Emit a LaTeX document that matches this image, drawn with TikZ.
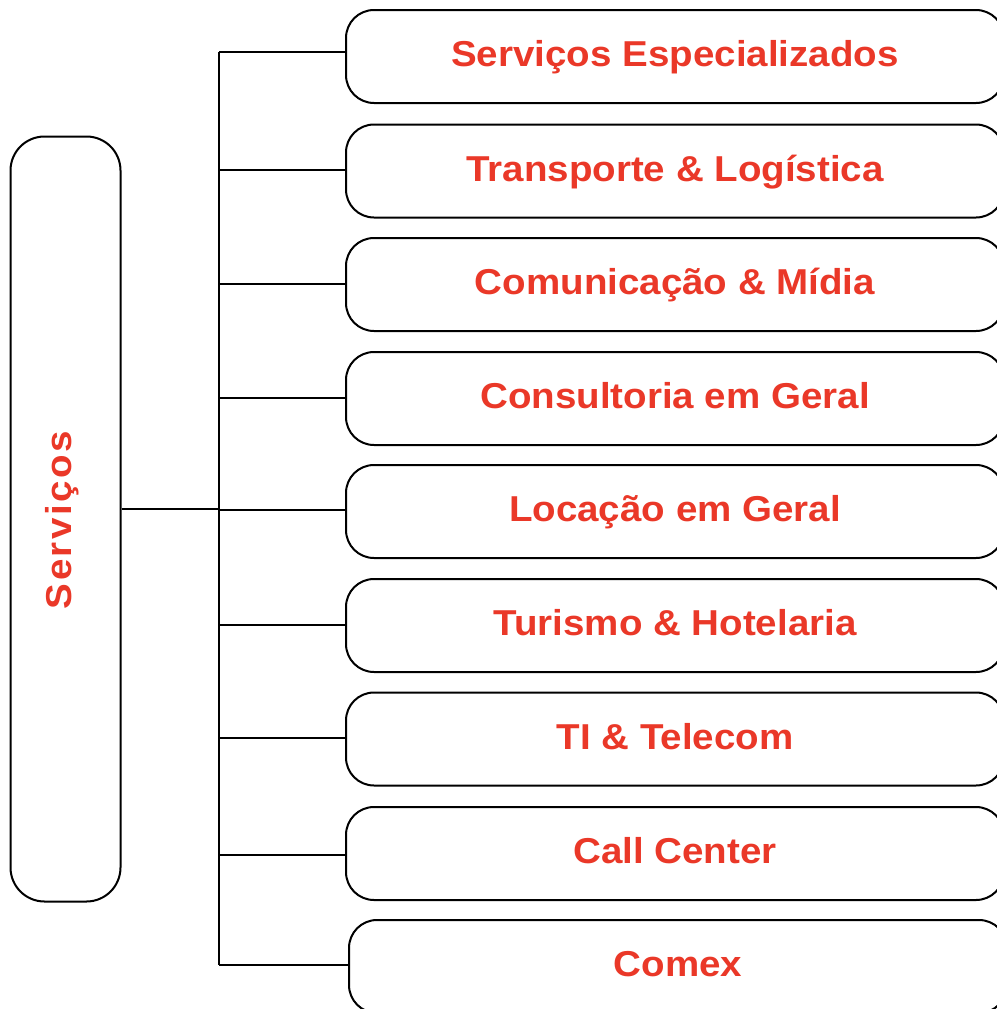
\documentclass[tikz,border=0pt]{standalone}
\usepackage{fontspec}
\setmainfont{Liberation Sans}[FakeStretch=1.07]
\newfontfamily\spacedfont{Liberation Sans}[FakeStretch=1.07,LetterSpace=7]
\definecolor{txtred}{RGB}{234,56,40}
\begin{document}
\begin{tikzpicture}[x=1pt,y=-1pt,line width=2pt,
  itembox/.style={draw=black,rounded corners=28pt,minimum width=658pt,minimum height=93pt,inner sep=0pt,
    text height=25.8pt,text depth=5.5pt,
    font=\fontsize{36}{40}\selectfont\bfseries,text=txtred},
  mainbox/.style={draw=black,rounded corners=34pt,minimum width=110pt,minimum height=765pt,inner sep=0pt},
  maintext/.style={rotate=90,font=\spacedfont\fontsize{36}{40}\selectfont\bfseries,text=txtred,inner sep=0pt},
  conn/.style={draw=black,line width=2pt}]
\useasboundingbox (0,0) rectangle (996,1009);
% left box
\node[mainbox] (L) at (65.5,519) {};
\node[maintext] (Lt) at (62,520) {Serviços};
% right boxes
\node[itembox] (b1) at (675,56.5) {Serviços Especializados};
\node[itembox] (b2) at (675,171) {Transporte \& Logística};
\node[itembox] (b3) at (675,284.5) {Comunicação \& Mídia};
\node[itembox] (b4) at (675,398.5) {Consultoria em Geral};
\node[itembox] (b5) at (675,511.5) {Locação em Geral};
\node[itembox] (b6) at (675,625.5) {Turismo \& Hotelaria};
\node[itembox] (b7) at (675,739) {TI \& Telecom};
\node[itembox] (b8) at (675,853.5) {Call Center};
\node[itembox] (b9) at (678,966.5) {Comex};
% trunk
\coordinate (t1) at (219,52);
\coordinate (t2) at (219,169.5);
\coordinate (t3) at (219,283.5);
\coordinate (t4) at (219,397.5);
\coordinate (t5) at (219,510);
\coordinate (t6) at (219,625);
\coordinate (t7) at (219,738);
\coordinate (t8) at (219,854.5);
\coordinate (t9) at (219,965);
\coordinate (tm) at (219,509);
\draw[conn] (t1) -- (t9);
\foreach \i in {1,...,9} {\draw[conn] (t\i) -- (t\i -| b\i.west);}
\draw[conn] (L.east |- tm) -- (tm);
\end{tikzpicture}
\end{document}
